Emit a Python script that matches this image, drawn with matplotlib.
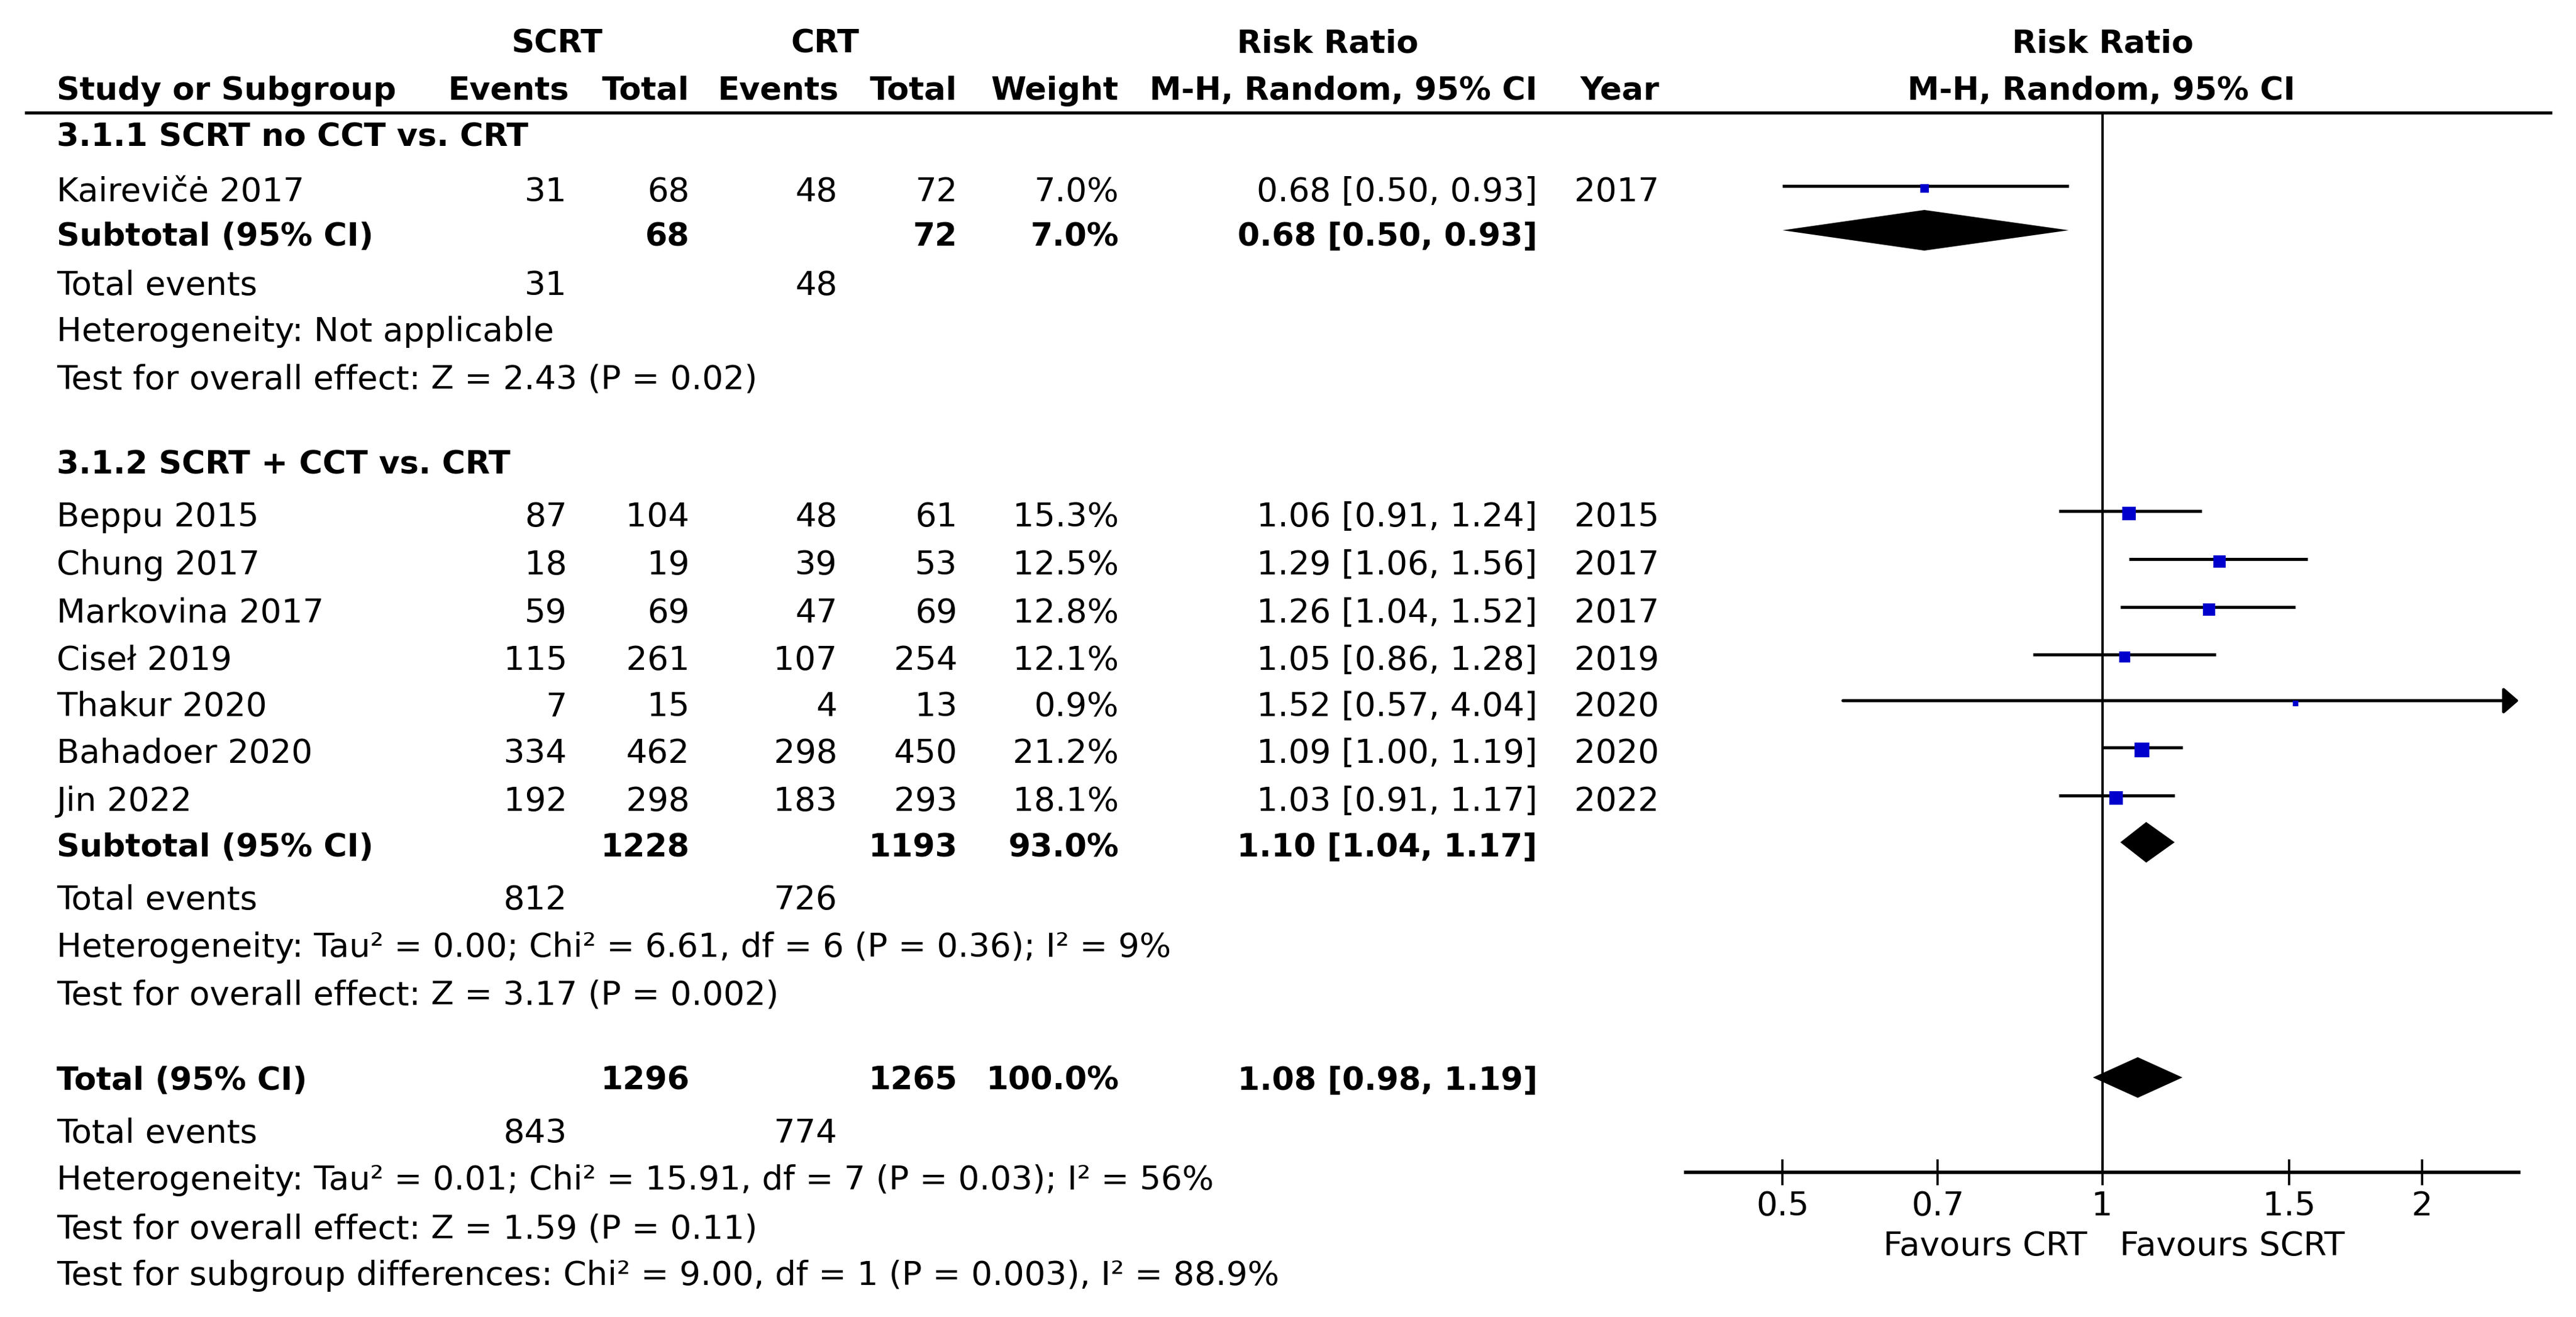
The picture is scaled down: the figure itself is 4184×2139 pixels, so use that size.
import matplotlib
matplotlib.use("Agg")
import matplotlib.pyplot as plt
import numpy as np

plt.rcParams['font.family'] = ['DejaVu Sans']

######################### data #################################################

group_names = ['3.1.1 SCRT no CCT vs. CRT', '3.1.2 SCRT + CCT vs. CRT']

studies = ['Kairevičė 2017', 'Beppu 2015', 'Chung 2017', 'Markovina 2017',
           'Ciseł 2019', 'Thakur 2020', 'Bahadoer 2020', 'Jin 2022']
study_group = [0, 1, 1, 1, 1, 1, 1, 1]
ev_scrt = [31, 87, 18, 59, 115, 7, 334, 192]
tot_scrt = [68, 104, 19, 69, 261, 15, 462, 298]
ev_crt = [48, 48, 39, 47, 107, 4, 298, 183]
tot_crt = [72, 61, 53, 69, 254, 13, 450, 293]
weight = [7.0, 15.3, 12.5, 12.8, 12.1, 0.9, 21.2, 18.1]
rr = [0.68, 1.06, 1.29, 1.26, 1.05, 1.52, 1.09, 1.03]
rr_lo = [0.50, 0.91, 1.06, 1.04, 0.86, 0.57, 1.00, 0.91]
rr_hi = [0.93, 1.24, 1.56, 1.52, 1.28, 4.04, 1.19, 1.17]
year = [2017, 2015, 2017, 2017, 2019, 2020, 2020, 2022]

sub_tot_scrt = [68, 1228]
sub_tot_crt = [72, 1193]
sub_ev_scrt = [31, 812]
sub_ev_crt = [48, 726]
sub_weight = [7.0, 93.0]
sub_rr = [0.68, 1.10]
sub_lo = [0.50, 1.04]
sub_hi = [0.93, 1.17]
sub_het = ['Heterogeneity: Not applicable',
           'Heterogeneity: Tau² = 0.00; Chi² = 6.61, df = 6 (P = 0.36); I² = 9%']
sub_test = ['Test for overall effect: Z = 2.43 (P = 0.02)',
            'Test for overall effect: Z = 3.17 (P = 0.002)']

all_tot_scrt = 1296
all_tot_crt = 1265
all_ev_scrt = 843
all_ev_crt = 774
all_weight = 100.0
all_rr, all_lo, all_hi = 1.08, 0.98, 1.19
all_het = 'Heterogeneity: Tau² = 0.01; Chi² = 15.91, df = 7 (P = 0.03); I² = 56%'
all_test = 'Test for overall effect: Z = 1.59 (P = 0.11)'
subgroup_test = 'Test for subgroup differences: Chi² = 9.00, df = 1 (P = 0.003), I² = 88.9%'

ticks = [0.5, 0.7, 1, 1.5, 2]
tick_labels = ['0.5', '0.7', '1', '1.5', '2']

######################### layout (pixels) ######################################

W, H, DPI = 4184, 2139, 200
FS, FSB = 19.5, 18.7
BASE = 20  # cap-centre to baseline

# column anchors
X_NAME, X_EV1, X_TOT1, X_EV2, X_TOT2, X_W, X_CI, X_YR = 92, 921, 1120, 1360, 1555, 1817, 2497, 2695

y_group = [218, 750]
y_study = [307, 835, 913, 991, 1068, 1143, 1219, 1297]
y_sub = [379, 1371]
y_te = [459, 1457]
y_het = [534, 1534]
y_test = [611, 1611]
y_total, y_total_te, y_total_het, y_total_test, y_subgr = 1750, 1836, 1912, 1991, 2067

fig = plt.figure(figsize=(W / DPI, H / DPI), dpi=DPI)
ax = fig.add_axes([0, 0, 1, 1])
ax.set_xlim(0, W)
ax.set_ylim(H, 0)
ax.axis('off')


def txt(x, y, s, ha='right', bold=False, **kw):
    ax.text(x, y + BASE, s, ha=ha, va='baseline', fontsize=FSB if bold else FS,
            fontweight='bold' if bold else 'normal', **kw)


# header
txt(904, 66, 'SCRT', ha='center', bold=True)
txt(1340, 66, 'CRT', ha='center', bold=True)
txt(2156, 66, 'Risk Ratio', ha='center', bold=True)
txt(3415, 66, 'Risk Ratio', ha='center', bold=True)
txt(X_NAME, 142, 'Study or Subgroup', ha='left', bold=True)
for x, s in zip([X_EV1 + 3, X_TOT1, X_EV2 + 2, X_TOT2, X_W, X_CI, X_YR],
                ['Events', 'Total', 'Events', 'Total', 'Weight', 'M-H, Random, 95% CI', 'Year']):
    txt(x, 142, s, bold=True)
txt(3413, 142, 'M-H, Random, 95% CI', ha='center', bold=True)
ax.hlines(183, 40, 4145, color='black', lw=1.8)

# table body
for g in range(2):
    txt(X_NAME, y_group[g], group_names[g], ha='left', bold=True)
    for i in range(len(studies)):
        if study_group[i] != g:
            continue
        y = y_study[i]
        txt(X_NAME, y, studies[i], ha='left')
        txt(X_EV1, y, str(ev_scrt[i]))
        txt(X_TOT1, y, str(tot_scrt[i]))
        txt(X_EV2, y, str(ev_crt[i]))
        txt(X_TOT2, y, str(tot_crt[i]))
        txt(X_W, y, f'{weight[i]:.1f}%')
        txt(X_CI, y, f'{rr[i]:.2f} [{rr_lo[i]:.2f}, {rr_hi[i]:.2f}]')
        txt(X_YR, y, str(year[i]))
    y = y_sub[g]
    txt(X_NAME, y, 'Subtotal (95% CI)', ha='left', bold=True)
    txt(X_TOT1, y, str(sub_tot_scrt[g]), bold=True)
    txt(X_TOT2, y, str(sub_tot_crt[g]), bold=True)
    txt(X_W, y, f'{sub_weight[g]:.1f}%', bold=True)
    txt(X_CI, y, f'{sub_rr[g]:.2f} [{sub_lo[g]:.2f}, {sub_hi[g]:.2f}]', bold=True)
    txt(X_NAME, y_te[g], 'Total events', ha='left')
    txt(X_EV1, y_te[g], str(sub_ev_scrt[g]))
    txt(X_EV2, y_te[g], str(sub_ev_crt[g]))
    txt(X_NAME, y_het[g], sub_het[g], ha='left')
    txt(X_NAME, y_test[g], sub_test[g], ha='left')

txt(X_NAME, y_total, 'Total (95% CI)', ha='left', bold=True)
txt(X_TOT1, y_total, str(all_tot_scrt), bold=True)
txt(X_TOT2, y_total, str(all_tot_crt), bold=True)
txt(X_W, y_total, f'{all_weight:.1f}%', bold=True)
txt(X_CI, y_total, f'{all_rr:.2f} [{all_lo:.2f}, {all_hi:.2f}]', bold=True)
txt(X_NAME, y_total_te, 'Total events', ha='left')
txt(X_EV1, y_total_te, str(all_ev_scrt))
txt(X_EV2, y_total_te, str(all_ev_crt))
txt(X_NAME, y_total_het, all_het, ha='left')
txt(X_NAME, y_total_test, all_test, ha='left')
txt(X_NAME, y_subgr, subgroup_test, ha='left')

######################### forest plot ##########################################

AX_L, AX_R, AX_T, AX_B = 2738, 4091, 183, 1904
fa = fig.add_axes([AX_L / W, 1 - AX_B / H, (AX_R - AX_L) / W, (AX_B - AX_T) / H])
fa.patch.set_visible(False)
fa.set_xscale('log')
xmin, xmax = np.exp(-0.903), np.exp(0.903)
fa.set_xlim(xmin, xmax)
fa.set_ylim(AX_B, AX_T)
for s in ['top', 'left', 'right']:
    fa.spines[s].set_visible(False)
fa.spines['bottom'].set_linewidth(2.0)
fa.set_xticks(ticks)
fa.set_xticklabels(tick_labels)
fa.xaxis.set_minor_locator(matplotlib.ticker.NullLocator())
fa.tick_params(axis='x', direction='inout', length=15, width=1.3, pad=3, labelsize=FS)
fa.set_yticks([])
fa.axvline(1, color='black', lw=1.4, zorder=1)

px2pt = 72 / DPI
for i in range(len(studies)):
    y = y_study[i] - 5
    if rr_hi[i] > xmax:
        # CI runs off the scale: arrow at the edge
        fa.annotate('', xy=(xmax, y), xytext=(rr_lo[i], y), annotation_clip=False,
                    arrowprops=dict(arrowstyle='-|>,head_length=0.75,head_width=0.65',
                                    mutation_scale=10, lw=1.8, color='black',
                                    shrinkA=0, shrinkB=0))
    else:
        fa.plot([rr_lo[i], rr_hi[i]], [y, y], color='black', lw=1.8, solid_capstyle='butt', zorder=2)
    side = max(5.4 * np.sqrt(weight[i]), 9) * px2pt
    fa.plot(rr[i], y + 4, marker='s', markersize=side, color='#0000CC', markeredgewidth=0, zorder=3)

DH = 33
for r, lo, hi, y in zip(sub_rr + [all_rr], sub_lo + [all_lo], sub_hi + [all_hi],
                        [y_sub[0] - 5, y_sub[1] - 3, y_total]):
    fa.fill([lo, r, hi, r], [y, y - DH, y, y + DH], color='black', lw=0, zorder=3)

txt(3390, 2019, 'Favours CRT')
txt(3443, 2019, 'Favours SCRT', ha='left')

fig.savefig('out.png', dpi=DPI)
